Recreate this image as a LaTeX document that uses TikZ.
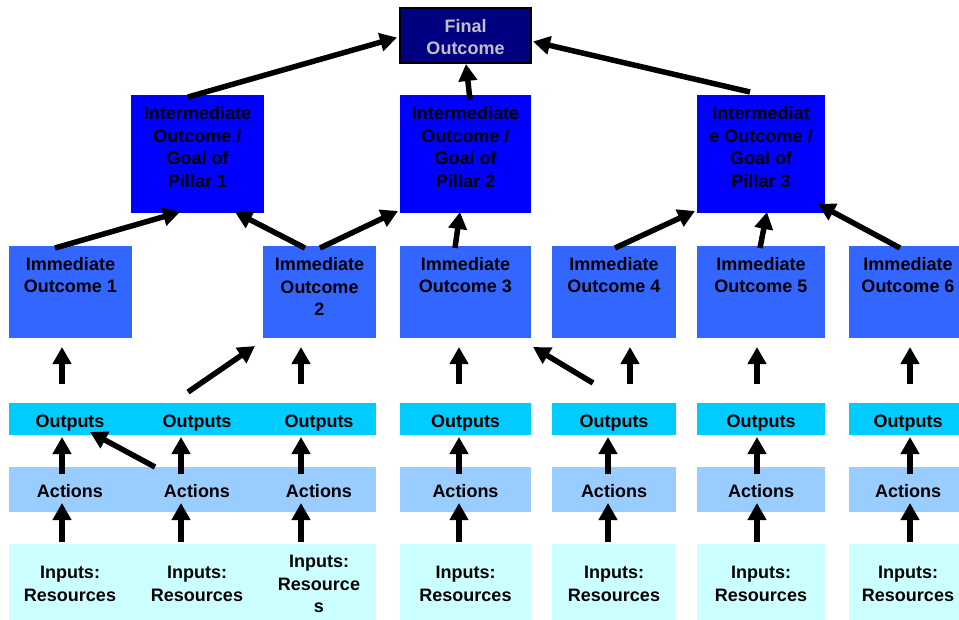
\documentclass[tikz,border=0pt]{standalone}
\usepackage{fontspec}
\setmainfont{Liberation Sans}
\usetikzlibrary{arrows.meta,calc}

\definecolor{finalfill}{HTML}{000080}
\definecolor{finaltext}{HTML}{C0C0C8}
\definecolor{pillarfill}{HTML}{0000FF}
\definecolor{immfill}{HTML}{3366FF}
\definecolor{outfill}{HTML}{00CCFF}
\definecolor{actfill}{HTML}{99CCFF}
\definecolor{infill}{HTML}{CCFFFF}

% struts for the first line (height) and the last line (depth) of a label
\newcommand{\topstrut}{\rule{0pt}{20pt}}
\newcommand{\botstrut}{\rule[-4pt]{0pt}{4pt}}

\begin{document}
\begin{tikzpicture}[x=1pt,y=-1pt,
  box/.style={draw=none,inner sep=0pt,outer sep=0pt,anchor=north west},
  lbl/.style={font=\bfseries\fontsize{18}{22.5}\selectfont,align=center,inner sep=0pt},
  arr/.style={line width=5.5pt,-{Triangle[width=18pt,length=17pt]}},
]
\useasboundingbox (0,0) rectangle (959,619);

% ---------- boxes ----------
\node[box,fill=finalfill,draw=black,line width=2pt,minimum width=131pt,minimum height=55pt] (final) at (400,8) {};

\node[box,fill=pillarfill,minimum width=133pt,minimum height=118pt] (p1) at (131,95) {};
\node[box,fill=pillarfill,minimum width=131pt,minimum height=118pt] (p2) at (400,95) {};
\node[box,fill=pillarfill,minimum width=128pt,minimum height=118pt] (p3) at (697,95) {};

\node[box,fill=immfill,minimum width=123pt,minimum height=92pt] (io1) at (9,246) {};
\node[box,fill=immfill,minimum width=113pt,minimum height=92pt] (io2) at (263,246) {};
\node[box,fill=immfill,minimum width=131pt,minimum height=92pt] (io3) at (400,246) {};
\node[box,fill=immfill,minimum width=124pt,minimum height=92pt] (io4) at (552,246) {};
\node[box,fill=immfill,minimum width=128pt,minimum height=92pt] (io5) at (697,246) {};
\node[box,fill=immfill,minimum width=118pt,minimum height=92pt] (io6) at (849,246) {};

\node[box,fill=outfill,minimum width=367pt,minimum height=32pt] (out1) at (9,403) {};
\node[box,fill=outfill,minimum width=131pt,minimum height=32pt] (out3) at (400,403) {};
\node[box,fill=outfill,minimum width=124pt,minimum height=32pt] (out4) at (552,403) {};
\node[box,fill=outfill,minimum width=128pt,minimum height=32pt] (out5) at (697,403) {};
\node[box,fill=outfill,minimum width=118pt,minimum height=32pt] (out6) at (849,403) {};

\node[box,fill=actfill,minimum width=367pt,minimum height=45pt] (act1) at (9,467) {};
\node[box,fill=actfill,minimum width=131pt,minimum height=45pt] (act3) at (400,467) {};
\node[box,fill=actfill,minimum width=124pt,minimum height=45pt] (act4) at (552,467) {};
\node[box,fill=actfill,minimum width=128pt,minimum height=45pt] (act5) at (697,467) {};
\node[box,fill=actfill,minimum width=118pt,minimum height=45pt] (act6) at (849,467) {};

\node[box,fill=infill,minimum width=367pt,minimum height=76pt] (in1) at (9,544) {};
\node[box,fill=infill,minimum width=131pt,minimum height=76pt] (in3) at (400,544) {};
\node[box,fill=infill,minimum width=124pt,minimum height=76pt] (in4) at (552,544) {};
\node[box,fill=infill,minimum width=128pt,minimum height=76pt] (in5) at (697,544) {};
\node[box,fill=infill,minimum width=118pt,minimum height=76pt] (in6) at (849,544) {};

% ---------- arrow columns ----------
\coordinate (k1) at (62,0);
\coordinate (k2) at (181,0);
\coordinate (k3) at (301,0);
\coordinate (k4) at (459,0);
\coordinate (k5) at (608,0);
\coordinate (k5b) at (630,0);
\coordinate (k6) at (757,0);
\coordinate (k7) at (910,0);

% inputs -> actions
\foreach \k/\a/\b in {k1/in1/act1,k2/in1/act1,k3/in1/act1,k4/in3/act3,k5/in4/act4,k6/in5/act5,k7/in6/act6}
  \draw[arr] ($(\a.north -| \k)+(0,-2)$) -- ($(\b.south -| \k)+(0,-9)$);

% actions -> outputs
\foreach \k/\a/\b in {k1/act1/out1,k2/act1/out1,k3/act1/out1,k4/act3/out3,k5/act4/out4,k6/act5/out5,k7/act6/out6}
  \draw[arr] ($(\a.north -| \k)+(0,7)$) -- ($(\b.south -| \k)+(0,2)$);

% outputs -> immediate outcomes
\foreach \k/\a/\b in {k1/out1/io1,k3/out1/io2,k4/out3/io3,k5b/out4/io4,k6/out5/io5,k7/out6/io6}
  \draw[arr] ($(\a.north -| \k)+(0,-19)$) -- ($(\b.south -| \k)+(0,9)$);

% cross links in the lower rows
\draw[arr] ($(act1.north west)+(146,0)$) -- ($(out1.south west)+(81,-3)$);
\draw[arr] ($(out1.north west)+(179,-11)$) -- ($(io2.south west)+(-8,8)$);
\draw[arr] ($(out4.north west)+(41,-20)$) -- ($(io3.south east)+(2,9)$);

% immediate outcomes -> pillars
\draw[arr] ($(io1.north west)+(46,2)$) -- ($(p1.south west)+(49,-1)$);
\draw[arr] ($(io2.north west)+(42,2)$) -- ($(p1.south east)+(-29,-1)$);
\draw[arr] ($(io2.north west)+(57,2)$) -- ($(p2.south west)+(-2,-2)$);
\draw[arr] ($(io3.north west)+(55,2)$) -- ($(p2.south west)+(60,-1)$);
\draw[arr] ($(io4.north west)+(63,2)$) -- ($(p3.south west)+(-2,-2)$);
\draw[arr] ($(io5.north west)+(63,2)$) -- ($(p3.south west)+(70,-1)$);
\draw[arr] ($(io6.north west)+(51,2)$) -- ($(p3.south east)+(-7,-9)$);

% pillars -> final outcome
\draw[arr] ($(p1.north west)+(57,2)$) -- ($(final.west)+(-3,2)$);
\draw[arr] ($(p2.north west)+(70,5)$) -- ($(final.south)+(0.5,1)$);
\draw[arr] ($(p3.north west)+(53,-3)$) -- ($(final.east)+(2,6)$);

% ---------- labels ----------
\node[lbl,text=finaltext] (tfinal) at (final.center) {\topstrut Final\\Outcome\botstrut};

\node[lbl] (tp1) at ($(p1.north)+(0,50.5)$) {\topstrut Intermediate\\Outcome /\\Goal of\\Pillar 1\botstrut};
\node[lbl] (tp2) at ($(p2.north)+(0,50.5)$) {\topstrut Intermediate\\Outcome /\\Goal of\\Pillar 2\botstrut};
\node[lbl] (tp3) at ($(p3.north)+(0,50.5)$) {\topstrut Intermediat\\e Outcome /\\Goal of\\Pillar 3\botstrut};

\node[lbl] (tio1) at ($(io1.north)+(0,27.5)$) {\topstrut Immediate\\Outcome 1\botstrut};
\node[lbl] (tio2) at ($(io2.north)+(0,39)$) {\topstrut Immediate\\Outcome\\2\botstrut};
\node[lbl] (tio3) at ($(io3.north)+(0,27.5)$) {\topstrut Immediate\\Outcome 3\botstrut};
\node[lbl] (tio4) at ($(io4.north)+(0,27.5)$) {\topstrut Immediate\\Outcome 4\botstrut};
\node[lbl] (tio5) at ($(io5.north)+(0,27.5)$) {\topstrut Immediate\\Outcome 5\botstrut};
\node[lbl] (tio6) at ($(io6.north)+(0,27.5)$) {\topstrut Immediate\\Outcome 6\botstrut};

\node[lbl] (tout1) at ($(out1.west)+(61,0)$) {\topstrut Outputs\botstrut};
\node[lbl] (tout2) at ($(out1.west)+(188,0)$) {\topstrut Outputs\botstrut};
\node[lbl] (tout3) at ($(out1.west)+(310,0)$) {\topstrut Outputs\botstrut};
\node[lbl] (tout4) at (out3.center) {\topstrut Outputs\botstrut};
\node[lbl] (tout5) at (out4.center) {\topstrut Outputs\botstrut};
\node[lbl] (tout6) at (out5.center) {\topstrut Outputs\botstrut};
\node[lbl] (tout7) at (out6.center) {\topstrut Outputs\botstrut};

\node[lbl] (tact1) at ($(act1.west)+(61,0)$) {\topstrut Actions\botstrut};
\node[lbl] (tact2) at ($(act1.west)+(188,0)$) {\topstrut Actions\botstrut};
\node[lbl] (tact3) at ($(act1.west)+(310,0)$) {\topstrut Actions\botstrut};
\node[lbl] (tact4) at (act3.center) {\topstrut Actions\botstrut};
\node[lbl] (tact5) at (act4.center) {\topstrut Actions\botstrut};
\node[lbl] (tact6) at (act5.center) {\topstrut Actions\botstrut};
\node[lbl] (tact7) at (act6.center) {\topstrut Actions\botstrut};

\node[lbl] (tin1) at ($(in1.west)+(61,0)$) {\topstrut Inputs:\\Resources\botstrut};
\node[lbl] (tin2) at ($(in1.west)+(188,0)$) {\topstrut Inputs:\\Resources\botstrut};
\node[lbl] (tin3) at ($(in1.west)+(310,0)$) {\topstrut Inputs:\\Resource\\s\botstrut};
\node[lbl] (tin4) at (in3.center) {\topstrut Inputs:\\Resources\botstrut};
\node[lbl] (tin5) at (in4.center) {\topstrut Inputs:\\Resources\botstrut};
\node[lbl] (tin6) at (in5.center) {\topstrut Inputs:\\Resources\botstrut};
\node[lbl] (tin7) at (in6.center) {\topstrut Inputs:\\Resources\botstrut};
\end{tikzpicture}
\end{document}
